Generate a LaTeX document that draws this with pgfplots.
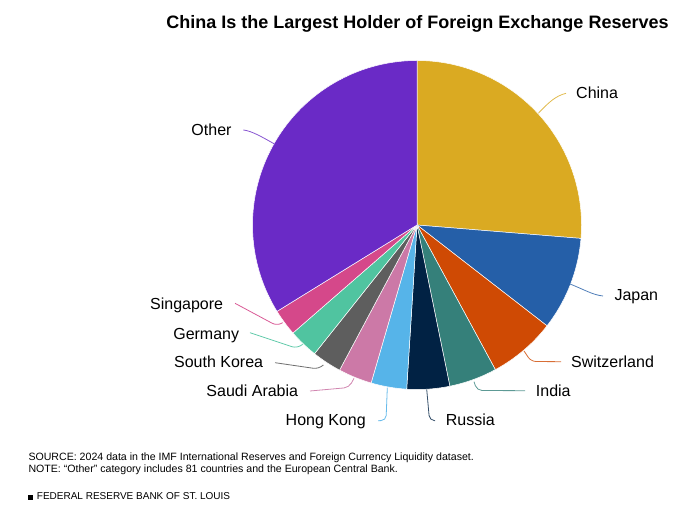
\documentclass[border=0pt]{standalone}
\usepackage{pgfplots}
\pgfplotsset{compat=1.18}
\usepackage{fontspec}
\setmainfont{Liberation Sans}
\definecolor{cChina}{HTML}{DAAA22}
\definecolor{cJapan}{HTML}{255FA8}
\definecolor{cSwitz}{HTML}{CF4A04}
\definecolor{cIndia}{HTML}{35807A}
\definecolor{cRussia}{HTML}{012244}
\definecolor{cHK}{HTML}{56B4E9}
\definecolor{cSaudi}{HTML}{CC79A7}
\definecolor{cSK}{HTML}{5E5E5E}
\definecolor{cGermany}{HTML}{50C4A0}
\definecolor{cSing}{HTML}{D5488A}
\definecolor{cOther}{HTML}{6A2AC6}
% share of world reserves (percent), clockwise from 12 o'clock
% \slice{cumulative start}{value}{colour}
\newcommand\slice[3]{%
  \addplot[fill=#3, draw=white, line width=0.5bp, samples=80, variable=\t,
    domain={90-3.6*(#1+#2)}:{90-3.6*(#1)}]
    ({417+164.5*cos(\t)},{290+164.5*sin(\t)}) -- (417,290) -- cycle;}
\newcommand\lab[1]{\fontsize{16bp}{18bp}\selectfont #1}
\begin{document}
\begin{tikzpicture}[x=1bp,y=1bp]
\begin{axis}[at={(0,0)}, anchor=south west, width=683bp, height=515bp,
  scale only axis, xmin=0, xmax=683, ymin=0, ymax=515, hide axis, clip=false]
\slice{0}{26.3}{cChina}
\slice{26.3}{9.2}{cJapan}
\slice{35.5}{6.6}{cSwitz}
\slice{42.1}{4.7}{cIndia}
\slice{46.8}{4.2}{cRussia}
\slice{51.0}{3.5}{cHK}
\slice{54.5}{3.3}{cSaudi}
\slice{57.8}{2.9}{cSK}
\slice{60.7}{2.9}{cGermany}
\slice{63.6}{2.6}{cSing}
\slice{66.2}{33.8}{cOther}
% leader lines
\draw[cChina!80, line width=0.8bp] (538.3,401.7) .. controls (550,414) and (556,419) .. (566,421.7);
\draw[cOther!80, line width=0.8bp] (275,370.7) .. controls (262,378) and (252,384) .. (243.3,385);
\draw[cJapan!80, line width=0.8bp] (570,231) .. controls (585,225) and (593,220) .. (603,219);
\begin{scope}[line width=0.8bp, rounded corners=5bp]
\draw[cSwitz!80] (524,164) -- (531,153.5) -- (561,153.3);
\draw[cIndia!80] (474,133.3) -- (477,124.5) -- (525,124.3);
\draw[cRussia!80] (426.7,125.7) -- (429.5,94.5) -- (435,94.3);
\draw[cHK!90] (387.3,127.3) -- (386,94.5) -- (378,94.3);
\draw[cSaudi!90] (354,136.7) -- (349,127.5) -- (310,124);
\draw[cSK!90] (323.3,150) -- (318.3,146) -- (275,152.3);
\draw[cGermany!90] (302.7,170.7) -- (296.7,166.7) -- (250,182.3);
\draw[cSing!90] (282.7,192.3) -- (276.7,189.3) -- (235,211.7);
\end{scope}
% labels
\begin{scope}[every node/.style={inner sep=0pt, text=black}]
\node[anchor=base west] at (576,416) {\lab{China}};
\node[anchor=base west] at (614.3,214) {\lab{Japan}};
\node[anchor=base west] at (571,147.3) {\lab{Switzerland}};
\node[anchor=base west] at (535.7,118) {\lab{India}};
\node[anchor=base west] at (445.7,89.3) {\lab{Russia}};
\node[anchor=base east] at (366,89) {\lab{Hong Kong}};
\node[anchor=base east] at (298.3,118.3) {\lab{Saudi Arabia}};
\node[anchor=base east] at (263.3,147.3) {\lab{South Korea}};
\node[anchor=base east] at (239.3,175.7) {\lab{Germany}};
\node[anchor=base east] at (223.3,205) {\lab{Singapore}};
\node[anchor=base east] at (231.7,379) {\lab{Other}};
\node[anchor=base] at (417.5,486.5) {\fontsize{18bp}{20bp}\selectfont\bfseries China Is the Largest Holder of Foreign Exchange Reserves};
\node[anchor=base west] at (28.3,54.3) {\fontsize{10.6bp}{12bp}\selectfont SOURCE: 2024 data in the IMF International Reserves and Foreign Currency Liquidity dataset.};
\node[anchor=base west] at (28.3,42.3) {\fontsize{10.6bp}{12bp}\selectfont NOTE: ``Other'' category includes 81 countries and the European Central Bank.};
\node[anchor=base west] at (36.7,15) {\fontsize{10bp}{12bp}\selectfont FEDERAL RESERVE BANK OF ST. LOUIS};
\end{scope}
\fill[black] (28.3,15) rectangle (33.3,20);
\end{axis}
\pgfresetboundingbox
\path (0,0) rectangle (683,515);
\end{tikzpicture}
\end{document}
